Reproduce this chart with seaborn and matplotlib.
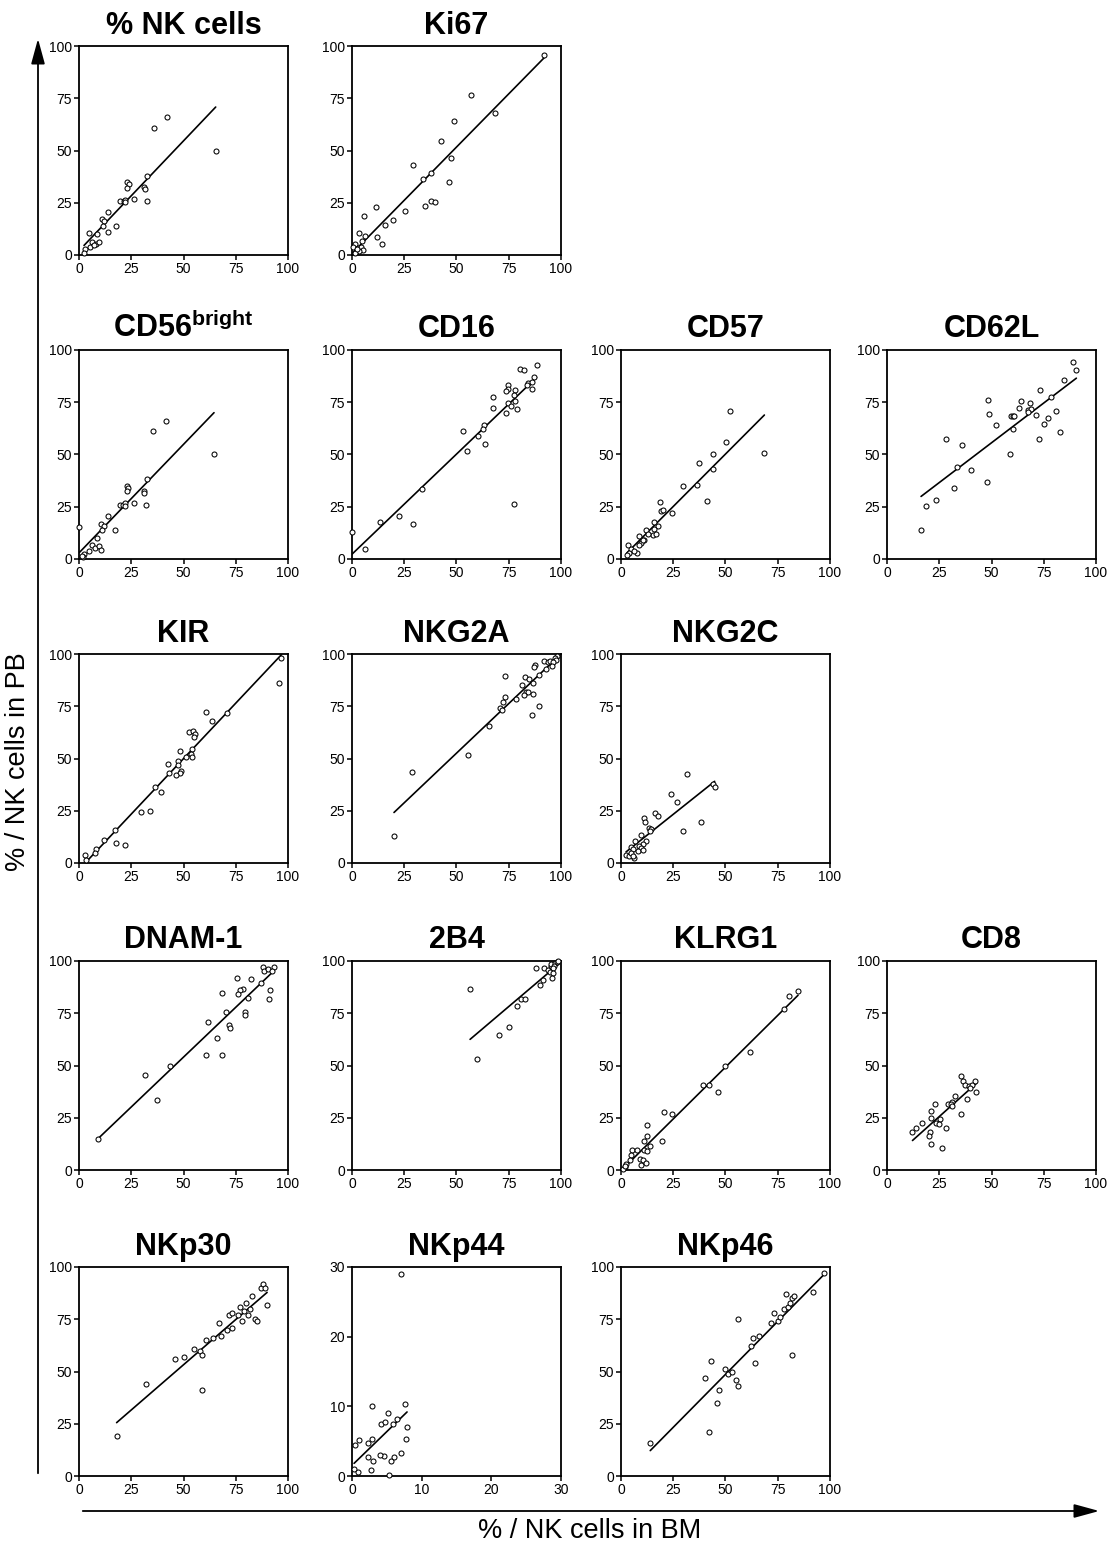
import matplotlib
matplotlib.use("Agg")
import matplotlib.pyplot as plt
from matplotlib.patches import FancyArrowPatch
import seaborn as sns

sns.set_theme(style="ticks")
plt.rcParams['font.family'] = ['Liberation Sans', 'DejaVu Sans']
plt.rcParams['mathtext.fontset'] = 'custom'
plt.rcParams['mathtext.rm'] = 'Liberation Sans'
plt.rcParams['mathtext.bf'] = 'Liberation Sans:bold'

# ---- data: % of NK cells in bone marrow (BM) vs peripheral blood (PB) ----
nk_bm = [42.2, 36.0, 65.4, 32.7, 23.0, 23.8, 23.2, 31.3, 31.4, 19.8, 21.3, 22.2, 22.2, 26.5, 32.4,
         14.0, 10.8, 12.2, 11.3, 17.5, 14.0, 4.6, 8.6, 6.2, 7.9, 9.7, 5.1, 2.7, 2.4, 7.1]
nk_pb = [65.9, 60.8, 49.7, 37.9, 34.8, 34.1, 32.2, 32.4, 31.6, 26.0, 25.7, 26.5, 25.4, 26.7, 26.0,
         20.6, 17.0, 16.2, 13.8, 14.1, 11.0, 10.6, 10.2, 6.3, 5.4, 6.2, 3.8, 2.7, 0.8, 4.8]

ki67_bm = [92.0, 57.1, 68.2, 48.6, 42.5, 47.2, 29.2, 37.7, 34.0, 46.2, 37.7, 39.5, 34.7, 11.4, 25.5,
           5.9, 19.7, 15.9, 3.4, 12.2, 6.1, 14.3, 4.8, 1.6, 0.5, 2.9, 4.3, 5.5, 3.5, 1.3, 2.4]
ki67_pb = [95.9, 76.6, 68.1, 64.0, 54.4, 46.3, 42.9, 39.2, 36.4, 35.1, 25.8, 25.2, 23.6, 23.0, 21.1,
           18.8, 16.7, 14.5, 10.4, 8.6, 9.3, 5.3, 6.7, 5.4, 3.8, 3.2, 3.8, 2.6, 1.8, 1.0, 2.7]

cd56_bm = [41.7, 35.5, 64.6, 32.3, 22.8, 23.6, 22.8, 30.9, 31.1, 19.6, 21.2, 22.0, 22.0, 26.1, 32.0,
           13.7, 10.5, 11.9, 11.0, 17.4, 8.4, 6.1, 7.6, 9.6, 10.5, 4.9, 2.5, 2.1, 0.2, 1.3]
cd56_pb = [66.1, 61.1, 50.0, 38.1, 35.0, 34.2, 32.3, 32.6, 31.7, 26.0, 25.6, 26.7, 25.4, 26.8, 26.0,
           20.7, 16.9, 15.9, 13.7, 14.1, 10.1, 6.6, 5.3, 6.1, 4.3, 4.0, 2.4, 0.8, 15.3, 1.6]

cd16_bm = [88.3, 80.6, 82.4, 74.7, 74.7, 73.6, 78.2, 84.0, 83.8, 86.9, 86.2, 85.9, 67.5, 77.6, 78.1,
           74.6, 76.0, 67.5, 79.0, 73.8, 53.1, 63.0, 62.7, 60.5, 63.8, 54.9, 33.3, 13.6, 22.4, 29.0,
           77.6, 0.0, 6.1]
cd16_pb = [92.6, 91.0, 90.6, 83.2, 81.3, 80.2, 81.0, 84.2, 83.4, 87.1, 84.5, 81.3, 77.4, 78.5, 75.6,
           74.8, 73.2, 72.3, 71.8, 70.0, 61.1, 64.0, 62.1, 58.9, 55.2, 51.8, 33.4, 17.9, 20.8, 16.8,
           26.3, 12.7, 5.0]

cd57_bm = [52.2, 50.1, 68.6, 44.0, 44.2, 37.4, 36.2, 29.9, 41.3, 18.7, 19.2, 20.2, 24.6, 15.8, 17.8,
           15.7, 15.2, 16.8, 12.0, 12.8, 8.5, 11.0, 9.6, 10.4, 3.2, 5.0, 7.7, 6.4, 4.0, 2.7, 8.8]
cd57_pb = [70.6, 56.1, 50.6, 50.3, 43.2, 45.8, 35.6, 34.8, 27.7, 27.1, 23.1, 23.4, 22.1, 17.6, 15.8,
           14.5, 11.3, 11.8, 13.7, 12.1, 10.8, 9.2, 7.7, 8.9, 6.8, 4.8, 3.1, 4.0, 2.9, 1.9, 6.5]

cd62l_bm = [89.2, 90.6, 84.5, 73.2, 78.6, 48.3, 64.0, 68.4, 63.0, 67.6, 68.9, 67.3, 81.0, 49.0, 59.2,
            60.1, 60.8, 71.1, 77.2, 52.0, 75.1, 60.1, 82.8, 72.6, 28.1, 36.0, 58.7, 33.5, 40.0, 48.0,
            32.2, 23.6, 18.5, 16.3]
cd62l_pb = [94.1, 90.2, 85.7, 81.1, 77.4, 76.2, 75.4, 74.7, 72.2, 71.4, 71.6, 70.5, 70.6, 69.2, 68.4,
            68.4, 68.4, 68.7, 67.6, 64.0, 64.5, 62.3, 61.0, 57.5, 57.5, 54.7, 50.1, 44.1, 42.4, 36.8,
            34.2, 28.3, 25.2, 14.1]

kir_bm = [96.8, 95.5, 60.9, 63.5, 70.7, 52.7, 54.6, 55.3, 54.8, 54.0, 48.4, 53.5, 51.1, 54.3, 47.6,
          47.6, 42.6, 48.6, 48.1, 46.3, 43.1, 36.2, 39.1, 29.6, 34.1, 17.1, 12.0, 17.6, 22.0, 7.9,
          7.5, 3.0, 3.5]
kir_pb = [97.9, 86.2, 72.3, 68.0, 71.8, 62.9, 63.2, 61.6, 60.5, 54.7, 53.6, 52.2, 50.7, 50.7, 48.8,
          47.0, 47.4, 44.0, 42.9, 41.9, 43.0, 36.6, 33.9, 24.3, 25.0, 15.8, 11.0, 9.8, 8.5, 6.9,
          5.0, 3.7, 1.6]

nkg2a_bm = [97.9, 96.9, 97.4, 92.0, 93.7, 94.9, 96.0, 95.5, 87.6, 87.0, 92.9, 73.2, 82.8, 84.9, 89.4,
            81.2, 86.7, 83.3, 84.1, 82.3, 86.7, 73.2, 78.7, 72.2, 70.9, 71.9, 89.7, 86.0, 65.7, 55.7,
            28.6, 20.1]
nkg2a_pb = [98.9, 98.1, 97.0, 96.8, 96.2, 96.8, 96.2, 94.4, 94.7, 93.6, 93.0, 89.3, 88.9, 88.1, 89.9,
            85.4, 86.2, 81.9, 81.6, 80.3, 81.1, 79.3, 78.7, 76.8, 74.2, 73.2, 75.3, 71.0, 65.5, 51.9,
            43.6, 13.0]

nkg2c_bm = [31.8, 23.9, 26.6, 43.8, 44.8, 16.4, 17.7, 10.9, 11.7, 38.4, 29.5, 13.2, 14.4, 13.8, 9.5,
            6.7, 12.2, 10.6, 8.8, 9.8, 5.0, 5.6, 7.9, 10.6, 2.4, 3.7, 6.1, 4.8, 5.8]
nkg2c_pb = [42.5, 33.2, 29.0, 38.0, 36.4, 24.0, 22.3, 21.5, 19.6, 19.7, 15.4, 16.8, 16.5, 15.2, 13.6,
            10.7, 10.7, 9.0, 8.2, 7.2, 7.5, 6.6, 5.9, 6.4, 3.8, 3.4, 2.2, 5.0, 3.4]

dnam_bm = [93.1, 88.1, 88.6, 90.5, 92.5, 75.6, 82.4, 86.9, 78.7, 76.9, 68.4, 76.3, 91.3, 80.8, 90.7,
           70.4, 79.2, 79.2, 61.9, 71.8, 72.3, 65.9, 60.6, 68.6, 43.4, 31.6, 37.5, 9.0]
dnam_pb = [97.3, 97.1, 95.0, 96.0, 95.2, 92.0, 91.3, 89.4, 86.8, 85.9, 84.7, 84.4, 85.9, 82.3, 82.0,
           75.7, 75.6, 74.4, 70.7, 69.5, 68.0, 63.3, 54.8, 54.8, 50.0, 45.5, 33.6, 15.0]

b24_bm = [56.5, 87.8, 91.7, 95.2, 95.4, 97.3, 98.2, 98.7, 96.6, 96.2, 93.8, 94.9, 96.0, 95.8, 91.4,
          89.9, 81.0, 82.7, 78.9, 75.2, 70.2, 59.7]
b24_pb = [86.7, 96.6, 96.5, 97.6, 98.6, 98.9, 99.5, 99.8, 97.6, 96.5, 95.5, 94.7, 94.1, 92.0, 91.0,
          88.6, 82.0, 81.7, 78.5, 68.5, 64.6, 52.9]

klrg1_bm = [84.7, 80.6, 78.1, 61.8, 50.0, 39.4, 41.9, 46.6, 20.8, 24.2, 12.3, 12.6, 11.1, 19.4, 14.0,
            5.5, 7.7, 10.8, 12.4, 5.0, 4.4, 8.9, 10.6, 9.4, 11.8, 2.6, 1.8, 0.8, 1.9]
klrg1_pb = [85.7, 83.3, 77.2, 56.5, 49.8, 40.8, 40.8, 37.1, 27.6, 27.0, 21.7, 16.2, 14.0, 14.1, 11.4,
            9.5, 9.5, 9.8, 9.0, 7.1, 4.7, 5.1, 4.7, 2.6, 3.4, 2.7, 1.3, 0.5, 2.1]

cd8_bm = [35.2, 36.2, 42.3, 37.3, 39.2, 40.8, 39.5, 42.8, 32.5, 38.4, 30.9, 29.3, 30.5, 31.0, 22.8,
          21.1, 35.2, 21.2, 25.2, 23.5, 24.8, 16.7, 28.3, 13.7, 12.2, 20.6, 20.3, 21.2, 26.2]
cd8_pb = [45.1, 42.7, 42.5, 40.6, 40.1, 40.9, 39.0, 37.1, 35.3, 34.2, 32.6, 31.8, 31.6, 30.7, 31.8,
          28.4, 26.8, 25.0, 24.6, 22.5, 22.2, 22.5, 20.2, 19.9, 18.1, 18.0, 16.1, 12.4, 10.6]

nkp30_bm = [18, 32, 46, 50, 55, 58, 59, 59, 61, 64, 67, 68, 71, 72, 73, 73, 76, 77, 78, 79,
            80, 81, 82, 83, 84, 85, 87, 88, 89, 90]
nkp30_pb = [19, 44, 56, 57, 61, 60, 58, 41, 65, 66, 73, 67, 70, 77, 78, 71, 77, 81, 74, 79,
            83, 77, 80, 86, 75, 74, 90, 92, 90, 82]

nkp44_bm = [7.1, 2.9, 7.6, 5.2, 0.4, 1.0, 2.3, 2.9, 4.2, 4.8, 5.9, 6.5, 7.9, 7.8, 7.1,
            5.6, 4.6, 3.0, 2.3, 2.7, 5.3, 0.3, 0.9, 4.0, 6.0]
nkp44_pb = [29.0, 10.1, 10.4, 9.1, 4.5, 5.1, 4.8, 5.3, 7.5, 7.8, 7.4, 8.2, 7.1, 5.3, 3.3,
            2.2, 2.9, 2.2, 2.7, 0.9, 0.1, 1.0, 0.6, 3.0, 2.7]

nkp46_bm = [14, 40, 42, 43, 46, 47, 50, 51, 53, 55, 56, 56, 62, 63, 64, 66, 72, 73, 75, 76,
            78, 79, 80, 81, 82, 82, 83, 92, 97]
nkp46_pb = [16, 47, 21, 55, 35, 41, 51, 49, 50, 46, 43, 75, 62, 66, 54, 67, 73, 78, 74, 76,
            80, 87, 81, 83, 58, 85, 86, 88, 97]

# ---- panel layout (pixel boxes on a 1110 x 1546 canvas) ----
W, H = 1110, 1546
col_left = [79, 352, 621, 887]
row_top = [46, 350, 654, 961, 1267]
box_w, box_h = 209, 209

panels = [
    ("% NK cells", nk_bm, nk_pb, 0, 0, 100),
    ("Ki67", ki67_bm, ki67_pb, 0, 1, 100),
    (r"$\mathbf{CD56}^{\mathbf{bright}}$", cd56_bm, cd56_pb, 1, 0, 100),
    ("CD16", cd16_bm, cd16_pb, 1, 1, 100),
    ("CD57", cd57_bm, cd57_pb, 1, 2, 100),
    ("CD62L", cd62l_bm, cd62l_pb, 1, 3, 100),
    ("KIR", kir_bm, kir_pb, 2, 0, 100),
    ("NKG2A", nkg2a_bm, nkg2a_pb, 2, 1, 100),
    ("NKG2C", nkg2c_bm, nkg2c_pb, 2, 2, 100),
    ("DNAM-1", dnam_bm, dnam_pb, 3, 0, 100),
    ("2B4", b24_bm, b24_pb, 3, 1, 100),
    ("KLRG1", klrg1_bm, klrg1_pb, 3, 2, 100),
    ("CD8", cd8_bm, cd8_pb, 3, 3, 100),
    ("NKp30", nkp30_bm, nkp30_pb, 4, 0, 100),
    ("NKp44", nkp44_bm, nkp44_pb, 4, 1, 30),
    ("NKp46", nkp46_bm, nkp46_pb, 4, 2, 100),
]

fig = plt.figure(figsize=(W / 100, H / 100), dpi=100)
fig.patch.set_facecolor("white")

for title, bm, pb, r, c, top in panels:
    left = col_left[c] / W
    bottom = 1 - (row_top[r] + box_h) / H
    ax = fig.add_axes([left, bottom, box_w / W, box_h / H])
    sns.regplot(
        x=bm, y=pb, ax=ax, ci=None, truncate=True, color="black",
        scatter_kws=dict(s=13, facecolors="white", edgecolors="black",
                         linewidths=0.75, alpha=1, clip_on=False, zorder=3),
        line_kws=dict(color="black", lw=1.2),
    )
    ax.set_xlim(0, top)
    ax.set_ylim(0, top)
    ticks = [0, 10, 20, 30] if top == 30 else [0, 25, 50, 75, 100]
    ax.set_xticks(ticks)
    ax.set_yticks(ticks)
    ax.set_xlabel("")
    ax.set_ylabel("")
    for side in ["left", "right", "top", "bottom"]:
        ax.spines[side].set_visible(True)
        ax.spines[side].set_linewidth(1.3)
        ax.spines[side].set_color("black")
    ax.tick_params(axis="both", which="both", direction="out", length=3.5,
                   width=1.1, colors="black", labelsize=10, pad=1.5,
                   top=False, right=False)
    ax.set_title(title, fontsize=22, fontweight="bold", pad=9, color="black")

# Long axis arrows with shared axis labels
arrow_style = "-|>,head_length=1.1,head_width=0.3"
fig.add_artist(FancyArrowPatch((38 / W, 1 - 1476 / H), (38 / W, 1 - 36 / H),
                               transform=fig.transFigure, arrowstyle=arrow_style,
                               mutation_scale=14, lw=1.3, color="black"))
fig.add_artist(FancyArrowPatch((80 / W, 1 - 1511 / H), (1102 / W, 1 - 1511 / H),
                               transform=fig.transFigure, arrowstyle=arrow_style,
                               mutation_scale=14, lw=1.3, color="black"))
fig.text(18 / W, 1 - 762 / H, "% / NK cells in PB", rotation=90, ha="center", va="center",
         fontsize=19.5, color="black")
fig.text(590 / W, 1 - 1531 / H, "% / NK cells in BM", ha="center", va="center",
         fontsize=19.5, color="black")

fig.savefig("out.png", dpi=100, facecolor="white")
